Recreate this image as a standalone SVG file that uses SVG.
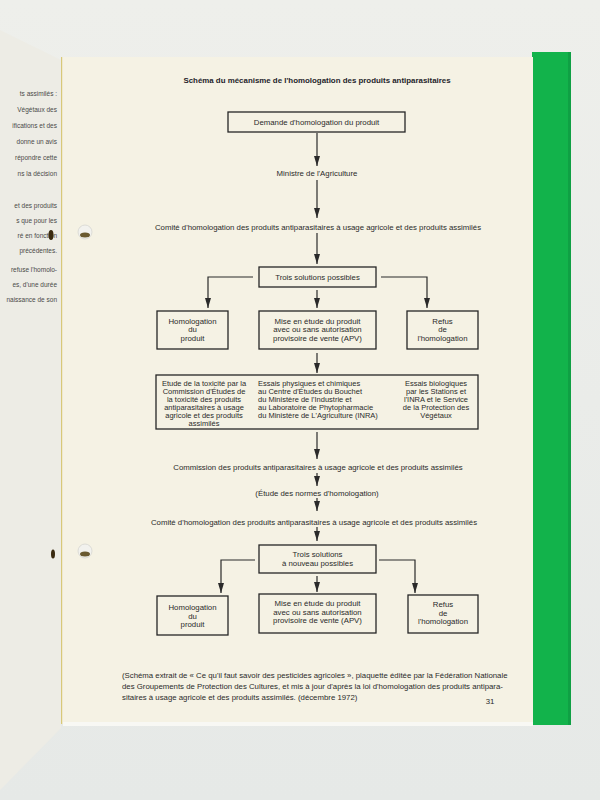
<svg xmlns="http://www.w3.org/2000/svg" width="600" height="800" viewBox="0 0 600 800">
<defs>
<style>
.t{font-family:"Liberation Sans",Arial,sans-serif;font-size:7.8px;fill:#2a2a2a;text-anchor:middle}
.b{font-size:7.5px}
.l{text-anchor:start}
.ttl{font-family:"Liberation Sans",Arial,sans-serif;font-size:7.9px;font-weight:bold;fill:#1e1e2a;text-anchor:middle}
.lp{font-family:"Liberation Sans",Arial,sans-serif;font-size:6.5px;fill:#4a4a48;text-anchor:end}
.box{fill:none;stroke:#262626;stroke-width:1.3}
.c{fill:none;stroke:#2a2a2a;stroke-width:1.2}
</style>
<marker id="ah" markerUnits="userSpaceOnUse" markerWidth="10" markerHeight="6" refX="10" refY="3" orient="auto">
<path d="M0,0 L10,3 L0,6 z" fill="#2a2a2a"/>
</marker>
<linearGradient id="bg" x1="0" y1="0" x2="0" y2="1">
<stop offset="0" stop-color="#eeefeb"/>
<stop offset="1" stop-color="#e6e9e7"/>
</linearGradient>
</defs>
<rect width="600" height="800" fill="url(#bg)"/>
<!-- left page -->
<path d="M0,30 L61,60 L61,728 Q35,755 0,790 Z" fill="#edece5"/>
<g class="lp">
<text x="57" y="96">ts assimilés :</text>
<text x="57" y="112">Végétaux des</text>
<text x="57" y="128">ifications et des</text>
<text x="57" y="144">donne un avis</text>
<text x="57" y="160">répondre cette</text>
<text x="57" y="176">ns la décision</text>
<text x="57" y="208">et des produits</text>
<text x="57" y="223">s que pour les</text>
<text x="57" y="238">ré en fonction</text>
<text x="57" y="253">précédentes.</text>
<text x="57" y="272">refuse l'homolo-</text>
<text x="57" y="287">es, d'une durée</text>
<text x="57" y="302">naissance de son</text>
</g>
<ellipse cx="51" cy="235" rx="2.5" ry="5" fill="#3a2a10"/>
<ellipse cx="53" cy="554" rx="2" ry="4.5" fill="#3a2a10"/>
<!-- green cover -->
<rect x="532" y="52" width="39" height="673" fill="#12b34b"/>
<rect x="568" y="52" width="3" height="673" fill="#0fa044"/>
<!-- main page -->
<rect x="61" y="57" width="472" height="667" fill="#f5f2e4"/>
<rect x="61" y="57" width="1.2" height="667" fill="#d8c878"/>
<rect x="63" y="722" width="470" height="4" fill="#f8f8f4"/>
<circle cx="85" cy="232" r="7" fill="#f2f2ee" stroke="#d5d5d0" stroke-width="0.8"/>
<ellipse cx="85" cy="235" rx="5" ry="2.5" fill="#6a5a30"/>
<circle cx="85" cy="551" r="7" fill="#f2f2ee" stroke="#d5d5d0" stroke-width="0.8"/>
<ellipse cx="85" cy="554" rx="5" ry="2.5" fill="#6a5a30"/>

<text class="ttl" x="317" y="83">Schéma du mécanisme de l'homologation des produits antiparasitaires</text>

<g id="connectors">
<line class="c" x1="317" y1="133" x2="317" y2="166" marker-end="url(#ah)"/>
<line class="c" x1="317" y1="180" x2="317" y2="218" marker-end="url(#ah)"/>
<line class="c" x1="317" y1="233" x2="317" y2="264" marker-end="url(#ah)"/>
<polyline class="c" points="253,277 208,277 208,308" marker-end="url(#ah)"/>
<polyline class="c" points="381,277 427,277 427,308" marker-end="url(#ah)"/>
<line class="c" x1="317" y1="290" x2="317" y2="308" marker-end="url(#ah)"/>
<line class="c" x1="317" y1="353" x2="317" y2="373" marker-end="url(#ah)"/>
<line class="c" x1="317" y1="432" x2="317" y2="459" marker-end="url(#ah)"/>
<line class="c" x1="317" y1="473" x2="317" y2="486" marker-end="url(#ah)"/>
<line class="c" x1="317" y1="498" x2="317" y2="511" marker-end="url(#ah)"/>
<line class="c" x1="317" y1="527" x2="317" y2="541" marker-end="url(#ah)"/>
<polyline class="c" points="255,560 221,560 221,593" marker-end="url(#ah)"/>
<polyline class="c" points="379,560 415,560 415,593" marker-end="url(#ah)"/>
<line class="c" x1="317" y1="576" x2="317" y2="592" marker-end="url(#ah)"/>
</g>

<g id="demande">
<rect class="box" x="228" y="112" width="177" height="20"/>
<text class="t" x="316.5" y="125">Demande d'homologation du produit</text>
</g>
<g id="ministre">
<text class="t" x="317" y="176">Ministre de l'Agriculture</text>
</g>
<g id="comite1">
<text class="t" x="318" y="230">Comité d'homologation des produits antiparasitaires à usage agricole et des produits assimilés</text>
</g>
<g id="trois1">
<rect class="box" x="259" y="267" width="117" height="20"/>
<text class="t" x="317.5" y="280">Trois solutions possibles</text>
</g>
<g id="homolog1">
<rect class="box" x="157" y="311" width="71" height="38"/>
<text class="t" x="192.5" y="324">Homologation</text>
<text class="t" x="192.5" y="332.3">du</text>
<text class="t" x="192.5" y="340.6">produit</text>
</g>
<g id="mise1">
<rect class="box" x="259" y="311" width="117" height="38"/>
<text class="t" x="317.5" y="324">Mise en étude du produit</text>
<text class="t" x="317.5" y="332.3">avec ou sans autorisation</text>
<text class="t" x="317.5" y="340.6">provisoire de vente (APV)</text>
</g>
<g id="refus1">
<rect class="box" x="407" y="311" width="71" height="38"/>
<text class="t" x="442.5" y="324">Refus</text>
<text class="t" x="442.5" y="332.3">de</text>
<text class="t" x="442.5" y="340.6">l'homologation</text>
</g>
<g id="essais">
<rect class="box" x="156" y="375" width="322" height="54"/>
<text class="t b" x="204" y="385.5">Etude de la toxicité par la</text>
<text class="t b" x="204" y="393.5">Commission d'Études de</text>
<text class="t b" x="204" y="401.5">la toxicité des produits</text>
<text class="t b" x="204" y="409.5">antiparasitaires à usage</text>
<text class="t b" x="204" y="417.5">agricole et des produits</text>
<text class="t b" x="204" y="425.5">assimilés</text>
<text class="t b l" x="258" y="385.5">Essais physiques et chimiques</text>
<text class="t b l" x="258" y="393.5">au Centre d'Études du Bouchet</text>
<text class="t b l" x="258" y="401.5">du Ministère de l'Industrie et</text>
<text class="t b l" x="258" y="409.5">au Laboratoire de Phytopharmacie</text>
<text class="t b l" x="258" y="417.5">du Ministère de L'Agriculture (INRA)</text>
<text class="t b" x="436" y="385.5">Essais biologiques</text>
<text class="t b" x="436" y="393.5">par les Stations et</text>
<text class="t b" x="436" y="401.5">l'INRA et le Service</text>
<text class="t b" x="436" y="409.5">de la Protection des</text>
<text class="t b" x="436" y="417.5">Végétaux</text>
</g>
<g id="commission">
<text class="t" x="318" y="470">Commission des produits antiparasitaires à usage agricole et des produits assimilés</text>
</g>
<g id="etude">
<text class="t" x="317" y="496">(Étude des normes d'homologation)</text>
</g>
<g id="comite2">
<text class="t" x="314" y="525">Comité d'homologation des produits antiparasitaires à usage agricole et des produits assimilés</text>
</g>
<g id="trois2">
<rect class="box" x="259" y="545" width="117" height="28"/>
<text class="t" x="317.5" y="557">Trois solutions</text>
<text class="t" x="317.5" y="566">à nouveau possibles</text>
</g>
<g id="homolog2">
<rect class="box" x="157" y="596" width="71" height="39"/>
<text class="t" x="192.5" y="610">Homologation</text>
<text class="t" x="192.5" y="618.5">du</text>
<text class="t" x="192.5" y="627">produit</text>
</g>
<g id="mise2">
<rect class="box" x="259" y="594" width="117" height="39"/>
<text class="t" x="317.5" y="606">Mise en étude du produit</text>
<text class="t" x="317.5" y="614.5">avec ou sans autorisation</text>
<text class="t" x="317.5" y="623">provisoire de vente (APV)</text>
</g>
<g id="refus2">
<rect class="box" x="408" y="595" width="70" height="38"/>
<text class="t" x="443" y="607">Refus</text>
<text class="t" x="443" y="615.5">de</text>
<text class="t" x="443" y="624">l'homologation</text>
</g>
<g id="footnote">
<text class="t l" x="122" y="678">(Schéma extrait de « Ce qu'il faut savoir des pesticides agricoles », plaquette éditée par la Fédération Nationale</text>
<text class="t l" x="122" y="689">des Groupements de Protection des Cultures, et mis à jour d'après la loi d'homologation des produits antipara-</text>
<text class="t l" x="122" y="700">sitaires à usage agricole et des produits assimilés. (décembre 1972)</text>
<text class="t" x="490" y="704">31</text>
</g>
</svg>
